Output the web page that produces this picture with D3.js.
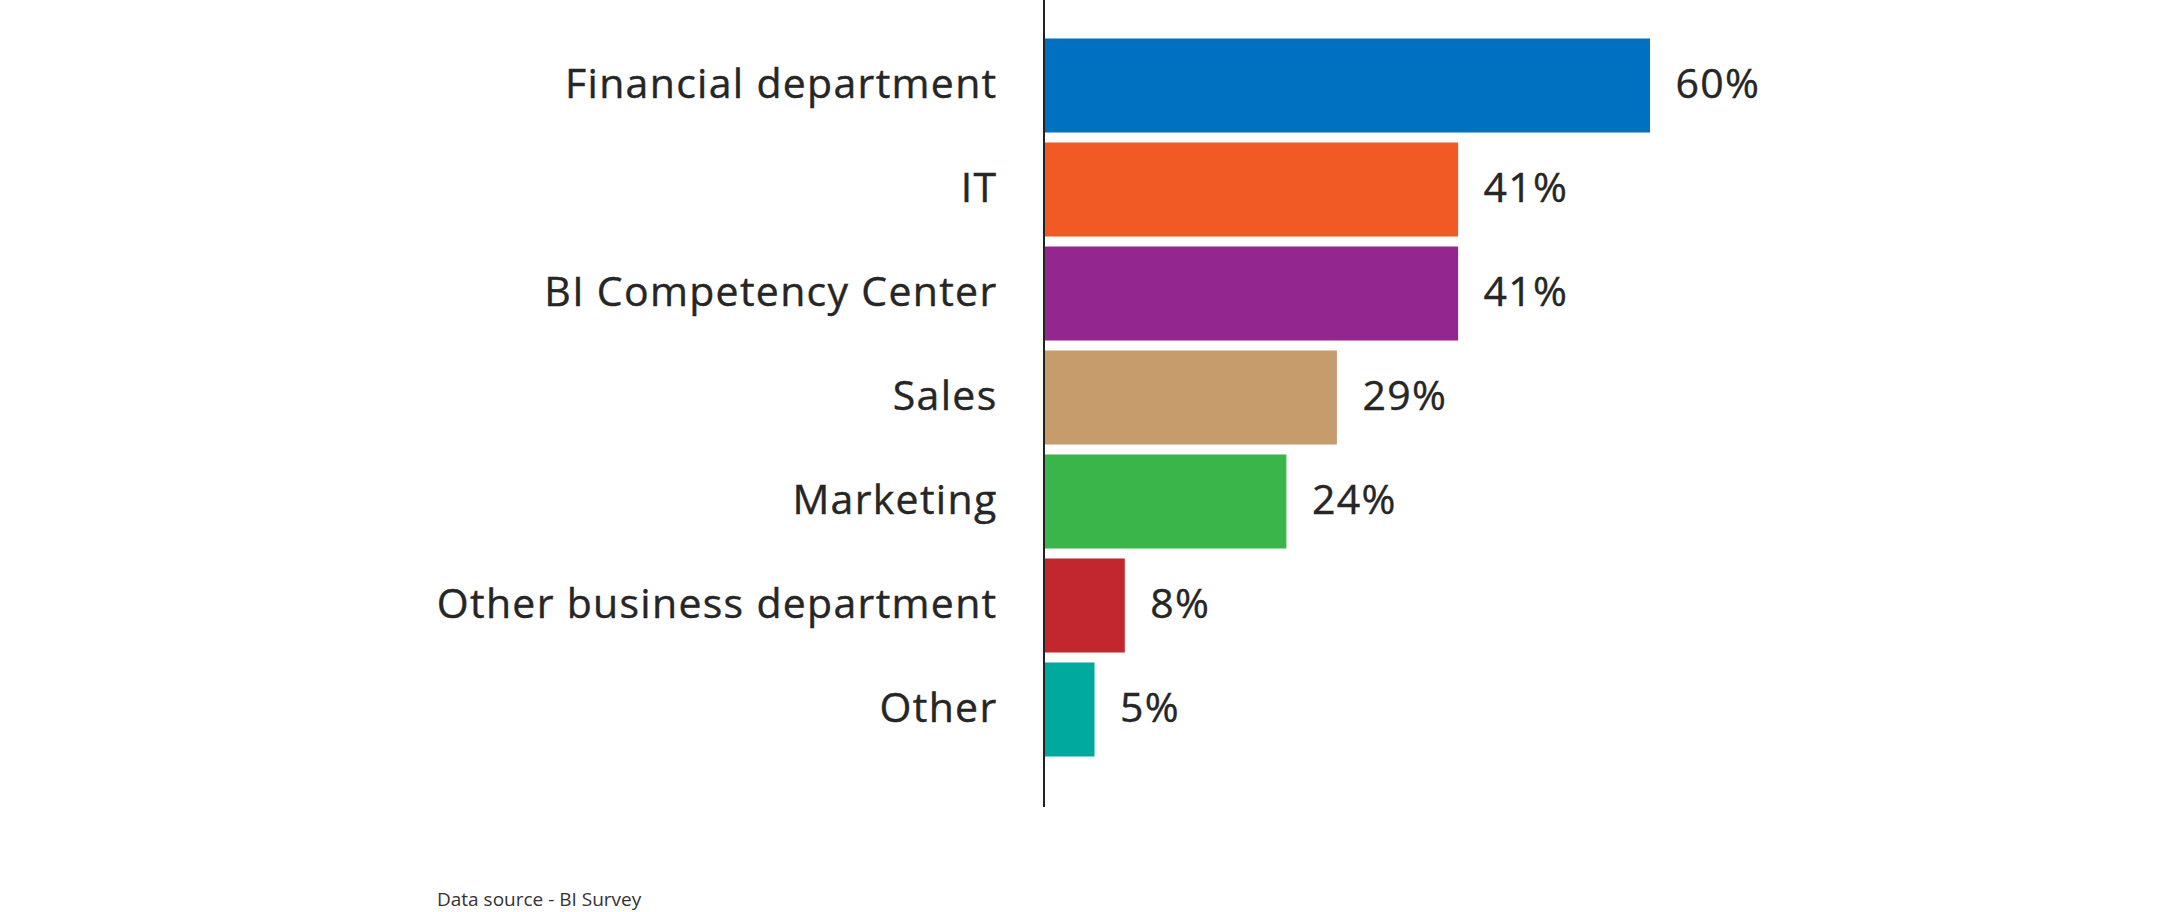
<!DOCTYPE html>
<html>
<head>
<meta charset="utf-8">
<script src="https://cdn.jsdelivr.net/npm/d3@7"></script>
<style>
  html, body { margin: 0; padding: 0; background: #fff; }
  svg { display: block; }
</style>
</head>
<body>
<svg id="chart" width="2178" height="912"></svg>
<script>
const categories = ["Financial department", "IT", "BI Competency Center", "Sales", "Marketing", "Other business department", "Other"];
const values = [60, 41, 41, 29, 24, 8, 5];
const colors = ["#0070C0", "#F15A24", "#93278F", "#C69C6D", "#39B54A", "#C1272D", "#00A99D"];
const sourceText = "Data source - BI Survey";

const svg = d3.select("#chart");
const axisX = 1044;

const x = d3.scaleLinear().domain([0, 60]).range([axisX, 1650]);
const y = d3.scaleBand().domain(categories).range([33.5, 33.5 + 7 * 104]).paddingInner(0.096).paddingOuter(0.048);

const data = categories.map((c, i) => ({ c, v: values[i], col: colors[i] }));

svg.selectAll("rect.bar").data(data).enter().append("rect")
  .attr("class", "bar")
  .attr("x", x(0))
  .attr("y", d => y(d.c))
  .attr("width", d => x(d.v) - x(0))
  .attr("height", y.bandwidth())
  .attr("fill", d => d.col);

svg.selectAll("text.cat").data(data).enter().append("text")
  .attr("class", "cat")
  .attr("x", 997.5)
  .attr("y", d => y(d.c) + y.bandwidth() / 2)
  .attr("dy", "0.3em")
  .attr("text-anchor", "end")
  .attr("font-family", "'Open Sans', sans-serif")
  .attr("font-size", 41)
  .attr("letter-spacing", "1.3px")
  .attr("fill", "#262626")
  .attr("stroke", "#262626")
  .attr("stroke-width", 0.4)
  .text(d => d.c);

svg.selectAll("text.val").data(data).enter().append("text")
  .attr("class", "val")
  .attr("x", d => x(d.v) + 25.5)
  .attr("y", d => y(d.c) + y.bandwidth() / 2)
  .attr("dy", "0.3em")
  .attr("text-anchor", "start")
  .attr("font-family", "'Open Sans', sans-serif")
  .attr("font-size", 41)
  .attr("letter-spacing", "1.3px")
  .attr("fill", "#262626")
  .attr("stroke", "#262626")
  .attr("stroke-width", 0.4)
  .text(d => d.v + "%");

svg.append("line")
  .attr("x1", axisX).attr("x2", axisX)
  .attr("y1", 0).attr("y2", 807)
  .attr("stroke", "#222")
  .attr("stroke-width", 2);

svg.append("text")
  .attr("x", 437)
  .attr("y", 906)
  .attr("font-family", "'Open Sans', sans-serif")
  .attr("font-size", 19)
  .attr("fill", "#333")
  .text(sourceText);
</script>
</body>
</html>
